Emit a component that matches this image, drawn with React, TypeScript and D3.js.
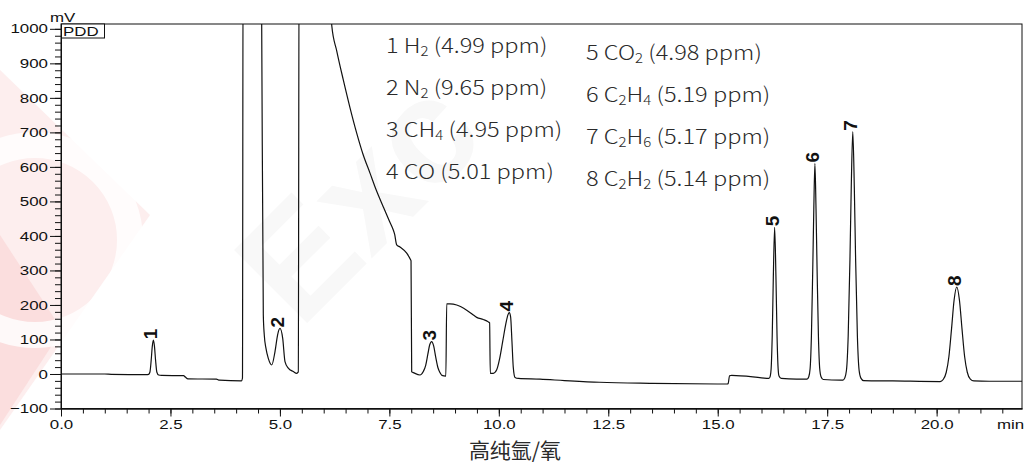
import { useEffect, useRef } from "react";
import * as d3 from "d3";

// chromatogram trace (min, mV)
const traceTime = [
  0, 1.0, 1.15, 1.95,
  2.0, 2.03, 2.06, 2.085, 2.11, 2.135, 2.16, 2.19, 2.23, 2.3,
  2.8, 2.84, 2.9, 3.55, 3.62, 4.12, 4.145, 4.16, 4.57,
  4.584, 4.621, 4.643, 4.682, 4.735, 4.813, 4.888, 4.95, 5.002, 5.064, 5.116, 5.192, 5.306, 5.384, 5.42,
  5.44, 6.17, 6.183, 6.3, 6.448, 6.6, 6.754, 6.9, 7.058, 7.2, 7.362, 7.5, 7.59, 7.62, 7.668, 7.743, 7.896, 7.988, 7.995,
  8.01, 8.046, 8.2, 8.275, 8.33, 8.38, 8.42, 8.467, 8.51, 8.56, 8.61, 8.657, 8.7, 8.79,
  8.81, 8.885, 9.038, 9.266, 9.418, 9.495, 9.646, 9.76, 9.79,
  9.805, 9.875, 9.952, 10.02, 10.09, 10.16, 10.21, 10.24, 10.27, 10.3, 10.33, 10.37, 10.45,
  10.94, 11.5, 12.3, 13.5, 15.22, 15.24, 15.27, 15.32, 16.0,
  16.17, 16.2, 16.22, 16.245, 16.27, 16.3, 16.33, 16.355, 16.38, 16.4, 16.45,
  16.8, 17.04, 17.08, 17.11, 17.14, 17.17, 17.195, 17.22, 17.245, 17.27, 17.3, 17.33, 17.36, 17.41,
  17.8, 17.86, 17.9, 17.94, 17.98, 18.02, 18.05, 18.085, 18.12, 18.15, 18.19, 18.23, 18.27, 18.33,
  19.0, 20.08, 20.15, 20.22, 20.28, 20.34, 20.4, 20.46, 20.52, 20.58, 20.64, 20.7, 20.77, 20.85,
  21.2, 21.95,
];
const traceMv = [
  0, 0, -1, -2,
  -1, 5, 40, 80, 98, 80, 40, 5, -3, -4,
  -5, -9, -14, -15, -18, -20, -12, 1300, 1300,
  1014, 171, 113, 74, 45, 26, 65, 115, 132, 103, 36, 17, 7, 2, 6,
  1300, 1300, 1011, 935, 852, 772, 698, 636, 582, 533, 484, 443, 417, 405, 374, 368, 350, 330, 328,
  6, 4, -3, 7, 25, 58, 84, 94, 82, 48, 18, 4, -4, -6,
  203, 203, 200, 185, 171, 164, 158, 151, 148,
  2, 2, 12, 45, 95, 145, 172, 178, 165, 95, 20, -10, -13,
  -15, -19, -24, -27, -29, -27, -5, -4, -11,
  -13, -6, 15, 110, 280, 425, 280, 110, 15, -6, -13,
  -15, -15, -8, 15, 110, 300, 480, 610, 480, 300, 110, 15, -8, -16,
  -18, -18, -12, 10, 110, 330, 540, 702, 540, 330, 110, 10, -12, -19,
  -20, -22, -16, 5, 50, 130, 215, 252, 215, 130, 50, 5, -15, -20,
  -21, -21,
];

const peakNumbers = ["1", "2", "3", "4", "5", "6", "7", "8"];
const peakTime = [2.11, 5.0, 8.467, 10.24, 16.3, 17.22, 18.085, 20.46];
const peakMv = [98, 132, 94, 178, 425, 610, 702, 252];

// "_n" marks a subscript
const legendLeft = ["1 H_2 (4.99 ppm)", "2 N_2 (9.65 ppm)", "3 CH_4 (4.95 ppm)", "4 CO (5.01 ppm)"];
const legendRight = ["5 CO_2 (4.98 ppm)", "6 C_2H_4 (5.19 ppm)", "7 C_2H_6 (5.17 ppm)", "8 C_2H_2 (5.14 ppm)"];

const xMajorTicks = [0, 2.5, 5, 7.5, 10, 12.5, 15, 17.5, 20];
const yMajorTicks = [-100, 0, 100, 200, 300, 400, 500, 600, 700, 800, 900, 1000];

const W = 1024;
const H = 466;
const tickFont = "'Liberation Sans', Arial, sans-serif";
const cjkFont = "'Noto Sans CJK SC', 'Noto Sans', sans-serif";
const stretch = 1.3; // the software's labels are drawn wide

function Formula({ text, x, y }: { text: string; x: number; y: number }) {
  const parts = text.split(/(_\d)/).filter(Boolean);
  let sub = false;
  return (
    <text
      transform={`translate(${x},${y}) scale(1.15,1)`}
      fontFamily={cjkFont}
      fontSize={20.5}
      fill="#2a2a2a"
      fontWeight={300}
    >
      {parts.map((p, i) => {
        if (p.startsWith("_")) {
          const el = (
            <tspan key={i} fontSize={13} dy={sub ? 0 : 3}>
              {p.slice(1)}
            </tspan>
          );
          sub = true;
          return el;
        }
        const el = (
          <tspan key={i} dy={sub ? -3 : 0}>
            {p}
          </tspan>
        );
        sub = false;
        return el;
      })}
    </text>
  );
}

function WideText({ x, y, children, anchor = "start" }: { x: number; y: number; children: string; anchor?: string }) {
  return (
    <text
      transform={`translate(${x},${y}) scale(${stretch},1)`}
      textAnchor={anchor}
      fontFamily={tickFont}
      fontSize={13}
      fill="#111"
    >
      {children}
    </text>
  );
}

export default function App() {
  const axRef = useRef<SVGGElement | null>(null);

  const x = d3.scaleLinear().domain([0, 21.95]).range([61, 1022]);
  const y = d3.scaleLinear().domain([-100, 1014]).range([408.5, 24]);

  const pts = traceTime.map((t, i) => [t, traceMv[i]] as [number, number]);
  const line = d3
    .line<[number, number]>()
    .x((d) => x(d[0]))
    .y((d) => y(d[1]))
    .curve(d3.curveMonotoneX);

  useEffect(() => {
    if (!axRef.current) return;
    const g = d3.select(axRef.current);
    g.selectAll("*").remove();

    // y axis: minor then major
    g.append("g")
      .attr("transform", `translate(${x(0)},0)`)
      .call(
        d3.axisLeft(y).tickValues(d3.range(-100, 1001, 20)).tickSize(6).tickSizeOuter(0).tickFormat(() => "")
      );
    g.append("g")
      .attr("transform", `translate(${x(0)},0)`)
      .call(
        d3.axisLeft(y).tickValues(yMajorTicks).tickSize(11).tickSizeOuter(0).tickPadding(2).tickFormat(d3.format("d"))
      )
      .selectAll("text")
      .style("font-family", tickFont)
      .style("font-size", "13px")
      .style("fill", "#111")
      .style("transform-box", "fill-box")
      .style("transform-origin", "right center")
      .style("transform", `scaleX(${stretch})`);

    // x axis
    g.append("g")
      .attr("transform", `translate(0,${y(-100)})`)
      .call(
        d3.axisBottom(x).tickValues(d3.range(0, 21.9, 0.5)).tickSize(5).tickSizeOuter(0).tickFormat(() => "")
      );
    g.append("g")
      .attr("transform", `translate(0,${y(-100)})`)
      .call(
        d3.axisBottom(x).tickValues(xMajorTicks).tickSize(8).tickSizeOuter(0).tickPadding(3).tickFormat(d3.format(".1f"))
      )
      .selectAll("text")
      .style("font-family", tickFont)
      .style("font-size", "13px")
      .style("fill", "#111")
      .style("transform-box", "fill-box")
      .style("transform-origin", "center")
      .style("transform", `scaleX(${stretch})`);

    g.selectAll("path.domain").attr("stroke", "#111");
    g.selectAll(".tick line").attr("stroke", "#111");
  }, []);

  return (
    <svg width={W} height={H} style={{ position: "absolute", left: 0, top: 0, background: "#fff" }}>
      {/* faint watermark */}
      <polygon points="0,70 150,215 0,430" fill="#fdeeee" />
      <polygon points="0,235 62,330 0,425" fill="#fbdede" />
      <circle cx={35} cy={240} r={95} fill="none" stroke="#ffffff" strokeWidth={26} opacity={0.8} />
      <text
        x={0}
        y={0}
        transform="translate(300,330) rotate(-45)"
        fontFamily={tickFont}
        fontSize={150}
        fontWeight={700}
        fill="#f8f8f8"
      >
        Exc
      </text>

      <defs>
        <clipPath id="plot-clip">
          <rect x={x(0)} y={y(1014)} width={x(21.95) - x(0)} height={y(-100) - y(1014)} />
        </clipPath>
      </defs>

      {/* frame */}
      <rect
        x={x(0)}
        y={y(1014)}
        width={x(21.95) - x(0)}
        height={y(-100) - y(1014)}
        fill="none"
        stroke="#111"
        strokeWidth={1}
      />

      <g ref={axRef} />

      <path d={line(pts) || ""} fill="none" stroke="#111" strokeWidth={1.2} clipPath="url(#plot-clip)" />

      {/* peak numbers */}
      {peakNumbers.map((n, i) => (
        <text
          key={n}
          transform={`translate(${x(peakTime[i]) + 4},${y(peakMv[i]) - 1}) rotate(-90)`}
          fontFamily={tickFont}
          fontWeight={700}
          fontSize={19}
          fill="#111"
        >
          {n}
        </text>
      ))}

      {/* PDD box and units */}
      <rect x={61.5} y={24} width={43} height={14} fill="#fff" stroke="#111" strokeWidth={1} />
      <WideText x={63} y={36}>PDD</WideText>
      <WideText x={50} y={22}>mV</WideText>
      <WideText x={997} y={429}>min</WideText>

      {/* legend */}
      {legendLeft.map((s, i) => (
        <Formula key={s} text={s} x={386} y={53 + i * 42} />
      ))}
      {legendRight.map((s, i) => (
        <Formula key={s} text={s} x={586} y={60 + i * 42} />
      ))}

      <text x={515} y={458} textAnchor="middle" fontFamily={cjkFont} fontSize={21} fill="#2a2a2a">
        高纯氩/氧
      </text>
    </svg>
  );
}
